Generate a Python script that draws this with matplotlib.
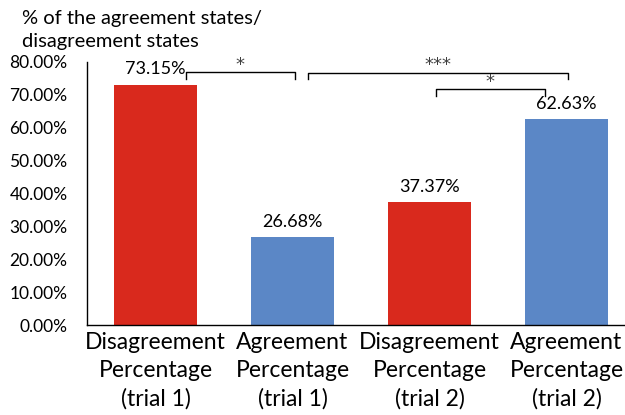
import matplotlib
matplotlib.use("Agg")
import matplotlib.pyplot as plt
from matplotlib.ticker import FuncFormatter

plt.rcParams['font.family'] = ['Lato', 'DejaVu Sans']

categories = ["Disagreement\nPercentage\n(trial 1)", "Agreement\nPercentage\n(trial 1)",
              "Disagreement\nPercentage\n(trial 2)", "Agreement\nPercentage\n(trial 2)"]
values = [73.15, 26.68, 37.37, 62.63]
colors = ["#D9291D", "#5B87C6", "#D9291D", "#5B87C6"]

# significance brackets: (x start, x end, bracket height, stars)
brackets = [(0.22, 1.02, 76.9, "*"), (1.11, 3.01, 76.8, "***"), (2.05, 2.84, 71.8, "*")]

fig = plt.figure(figsize=(6.25, 4.15), dpi=100)
ax = fig.add_axes([87 / 625, 90 / 415, 538 / 625, 263 / 415])

x = range(len(values))
ax.bar(x, values, width=0.6, color=colors, zorder=2)

for i, v in enumerate(values):
    ax.text(i, v + 2.2, f"{v:.2f}%", ha="center", va="bottom", fontsize=13, color="black")

for x0, x1, h, stars in brackets:
    ax.plot([x0, x0, x1, x1], [h - 2.0, h, h, h - 2.0], color="black", lw=1, clip_on=False, zorder=3)
    ax.text((x0 + x1) / 2, h - 0.6, stars, ha="center", va="bottom", fontsize=13,
            family="DejaVu Sans", color="#404040")

ax.set_ylim(0, 80)
ax.set_xlim(-0.5, -0.5 + 538 / 137)
ax.set_yticks([0, 10, 20, 30, 40, 50, 60, 70, 80])
ax.yaxis.set_major_formatter(FuncFormatter(lambda v, p: f"{v:.2f}%"))
ax.set_xticks(list(x))
ax.set_xticklabels(categories, fontsize=16.5, linespacing=1.4)
ax.tick_params(axis="y", length=0, pad=14, labelsize=12.5)
ax.tick_params(axis="x", length=0, pad=5)

for side in ["top", "right"]:
    ax.spines[side].set_visible(False)
ax.spines["left"].set_linewidth(1)
ax.spines["bottom"].set_linewidth(1)

fig.text(22 / 625, 1 - 10 / 415, "% of the agreement states/\ndisagreement states",
         ha="left", va="top", fontsize=14.5, linespacing=1.45)

fig.savefig("out.png", dpi=100)
